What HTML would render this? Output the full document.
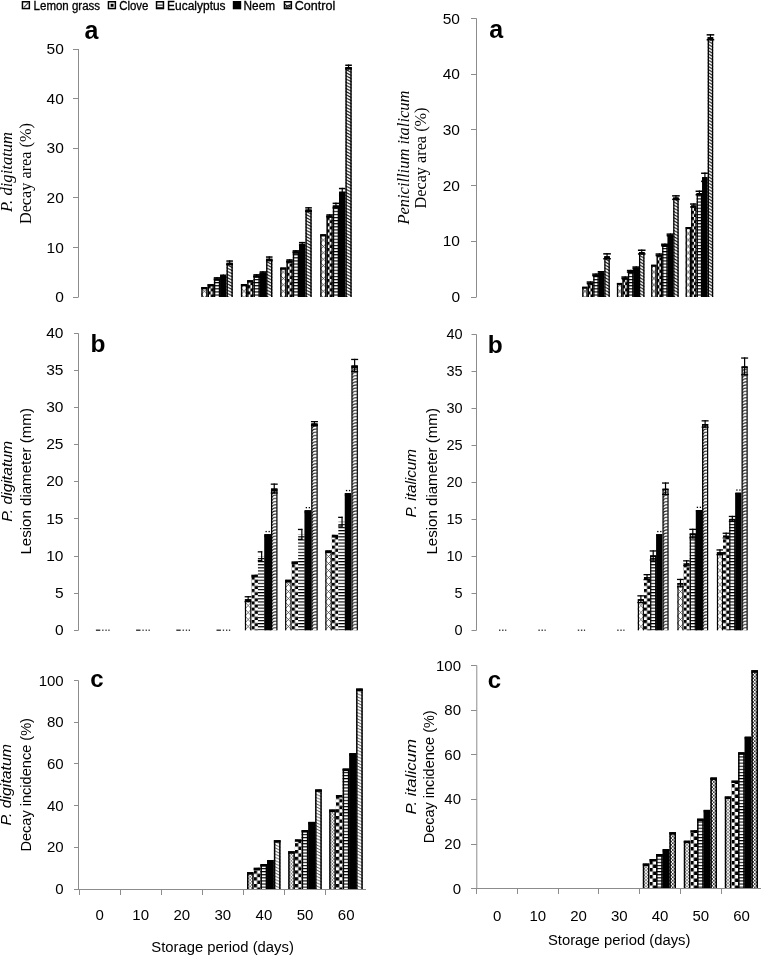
<!DOCTYPE html>
<html><head><meta charset="utf-8"><title>Figure</title>
<style>
html,body{margin:0;padding:0;background:#fff;}
body{width:761px;height:955px;overflow:hidden;font-family:"Liberation Sans",sans-serif;}
svg{display:block;filter:grayscale(100%);}
</style></head>
<body>
<svg width="761" height="955" viewBox="0 0 761 955">
<defs>
<pattern id="lem" patternUnits="userSpaceOnUse" width="6.2" height="6.2">
  <rect width="6.2" height="6.2" fill="#fff"/>
  <path d="M0,0 L6.2,6.2 M6.2,0 L0,6.2" stroke="#000" stroke-width="0.9"/>
</pattern>
<pattern id="clo" patternUnits="userSpaceOnUse" width="6.2" height="6.2">
  <rect width="6.2" height="6.2" fill="#fff"/>
  <rect x="0" y="0" width="3.1" height="3.1" fill="#000"/>
  <rect x="3.1" y="3.1" width="3.1" height="3.1" fill="#000"/>
</pattern>
<pattern id="euc" patternUnits="userSpaceOnUse" width="6" height="3.1">
  <rect width="6" height="3.1" fill="#fff"/>
  <rect x="0" y="0" width="6" height="1.2" fill="#000"/>
</pattern>
<pattern id="ctla" patternUnits="userSpaceOnUse" width="3.2" height="3.2">
  <rect width="3.2" height="3.2" fill="#fff"/>
  <path d="M-1,-1 L4.2,4.2 M-1,2.2 L1,4.2 M2.2,-1 L4.2,1" stroke="#000" stroke-width="1.1"/>
</pattern>
<pattern id="ctlb" patternUnits="userSpaceOnUse" width="6.4" height="3.3">
  <rect width="6.4" height="3.3" fill="#fff"/>
  <path d="M5.6,0 Q1.2,1.2 5.6,3.3" stroke="#000" stroke-width="0.9" fill="none"/>
  <path d="M2.6,0 Q-1.8,1.2 2.6,3.3" stroke="#000" stroke-width="0.9" fill="none"/>
</pattern>
<pattern id="ctlc" patternUnits="userSpaceOnUse" width="3.4" height="3.4">
  <rect width="3.4" height="3.4" fill="#fff"/>
  <path d="M0,1.7 L1.7,0 L3.4,1.7 L1.7,3.4 Z" stroke="#000" stroke-width="0.8" fill="none"/>
</pattern>
<pattern id="p1" patternUnits="userSpaceOnUse" x="201.30" y="0" width="6.30" height="6.4"><rect width="6.30" height="6.4" fill="#fff"/><path d="M0,0 L6.30,6.4 M6.30,0 L0,6.4" stroke="#222" stroke-width="0.7"/></pattern><pattern id="p2" patternUnits="userSpaceOnUse" x="207.60" y="0" width="6.30" height="6.2"><rect width="6.30" height="6.2" fill="#fff"/><rect x="0" y="0" width="3.15" height="3.10" fill="#000"/><rect x="3.15" y="3.10" width="3.15" height="3.10" fill="#000"/></pattern><pattern id="p3" patternUnits="userSpaceOnUse" x="213.90" y="0" width="6.30" height="3.1"><rect width="6.30" height="3.1" fill="#fff"/><rect x="0" y="0" width="6.30" height="1.1" fill="#000"/></pattern><pattern id="p4" patternUnits="userSpaceOnUse" x="226.50" y="0" width="6.30" height="3.15"><rect width="6.30" height="3.15" fill="#fff"/><path d="M0,-3.15 L6.30,0.00 M0,0 L6.30,3.15 M0,3.15 L6.30,6.30" stroke="#111" stroke-width="1.1"/></pattern><pattern id="p5" patternUnits="userSpaceOnUse" x="240.90" y="0" width="6.30" height="6.4"><rect width="6.30" height="6.4" fill="#fff"/><path d="M0,0 L6.30,6.4 M6.30,0 L0,6.4" stroke="#222" stroke-width="0.7"/></pattern><pattern id="p6" patternUnits="userSpaceOnUse" x="247.20" y="0" width="6.30" height="6.2"><rect width="6.30" height="6.2" fill="#fff"/><rect x="0" y="0" width="3.15" height="3.10" fill="#000"/><rect x="3.15" y="3.10" width="3.15" height="3.10" fill="#000"/></pattern><pattern id="p7" patternUnits="userSpaceOnUse" x="253.50" y="0" width="6.30" height="3.1"><rect width="6.30" height="3.1" fill="#fff"/><rect x="0" y="0" width="6.30" height="1.1" fill="#000"/></pattern><pattern id="p8" patternUnits="userSpaceOnUse" x="266.10" y="0" width="6.30" height="3.15"><rect width="6.30" height="3.15" fill="#fff"/><path d="M0,-3.15 L6.30,0.00 M0,0 L6.30,3.15 M0,3.15 L6.30,6.30" stroke="#111" stroke-width="1.1"/></pattern><pattern id="p9" patternUnits="userSpaceOnUse" x="280.20" y="0" width="6.30" height="6.4"><rect width="6.30" height="6.4" fill="#fff"/><path d="M0,0 L6.30,6.4 M6.30,0 L0,6.4" stroke="#222" stroke-width="0.7"/></pattern><pattern id="p10" patternUnits="userSpaceOnUse" x="286.50" y="0" width="6.30" height="6.2"><rect width="6.30" height="6.2" fill="#fff"/><rect x="0" y="0" width="3.15" height="3.10" fill="#000"/><rect x="3.15" y="3.10" width="3.15" height="3.10" fill="#000"/></pattern><pattern id="p11" patternUnits="userSpaceOnUse" x="292.80" y="0" width="6.30" height="3.1"><rect width="6.30" height="3.1" fill="#fff"/><rect x="0" y="0" width="6.30" height="1.1" fill="#000"/></pattern><pattern id="p12" patternUnits="userSpaceOnUse" x="305.40" y="0" width="6.30" height="3.15"><rect width="6.30" height="3.15" fill="#fff"/><path d="M0,-3.15 L6.30,0.00 M0,0 L6.30,3.15 M0,3.15 L6.30,6.30" stroke="#111" stroke-width="1.1"/></pattern><pattern id="p13" patternUnits="userSpaceOnUse" x="320.20" y="0" width="6.30" height="6.4"><rect width="6.30" height="6.4" fill="#fff"/><path d="M0,0 L6.30,6.4 M6.30,0 L0,6.4" stroke="#222" stroke-width="0.7"/></pattern><pattern id="p14" patternUnits="userSpaceOnUse" x="326.50" y="0" width="6.30" height="6.2"><rect width="6.30" height="6.2" fill="#fff"/><rect x="0" y="0" width="3.15" height="3.10" fill="#000"/><rect x="3.15" y="3.10" width="3.15" height="3.10" fill="#000"/></pattern><pattern id="p15" patternUnits="userSpaceOnUse" x="332.80" y="0" width="6.30" height="3.1"><rect width="6.30" height="3.1" fill="#fff"/><rect x="0" y="0" width="6.30" height="1.1" fill="#000"/></pattern><pattern id="p16" patternUnits="userSpaceOnUse" x="345.40" y="0" width="6.30" height="3.15"><rect width="6.30" height="3.15" fill="#fff"/><path d="M0,-3.15 L6.30,0.00 M0,0 L6.30,3.15 M0,3.15 L6.30,6.30" stroke="#111" stroke-width="1.1"/></pattern><pattern id="p17" patternUnits="userSpaceOnUse" x="582.20" y="0" width="5.52" height="6.4"><rect width="5.52" height="6.4" fill="#fff"/><path d="M0,0 L5.52,6.4 M5.52,0 L0,6.4" stroke="#222" stroke-width="0.7"/></pattern><pattern id="p18" patternUnits="userSpaceOnUse" x="587.72" y="0" width="5.52" height="6.2"><rect width="5.52" height="6.2" fill="#fff"/><rect x="0" y="0" width="2.76" height="3.10" fill="#000"/><rect x="2.76" y="3.10" width="2.76" height="3.10" fill="#000"/></pattern><pattern id="p19" patternUnits="userSpaceOnUse" x="593.24" y="0" width="5.52" height="3.1"><rect width="5.52" height="3.1" fill="#fff"/><rect x="0" y="0" width="5.52" height="1.1" fill="#000"/></pattern><pattern id="p20" patternUnits="userSpaceOnUse" x="604.28" y="0" width="5.52" height="3.15"><rect width="5.52" height="3.15" fill="#fff"/><path d="M0,-3.15 L5.52,0.00 M0,0 L5.52,3.15 M0,3.15 L5.52,6.30" stroke="#111" stroke-width="1.1"/></pattern><pattern id="p21" patternUnits="userSpaceOnUse" x="616.90" y="0" width="5.52" height="6.4"><rect width="5.52" height="6.4" fill="#fff"/><path d="M0,0 L5.52,6.4 M5.52,0 L0,6.4" stroke="#222" stroke-width="0.7"/></pattern><pattern id="p22" patternUnits="userSpaceOnUse" x="622.42" y="0" width="5.52" height="6.2"><rect width="5.52" height="6.2" fill="#fff"/><rect x="0" y="0" width="2.76" height="3.10" fill="#000"/><rect x="2.76" y="3.10" width="2.76" height="3.10" fill="#000"/></pattern><pattern id="p23" patternUnits="userSpaceOnUse" x="627.94" y="0" width="5.52" height="3.1"><rect width="5.52" height="3.1" fill="#fff"/><rect x="0" y="0" width="5.52" height="1.1" fill="#000"/></pattern><pattern id="p24" patternUnits="userSpaceOnUse" x="638.98" y="0" width="5.52" height="3.15"><rect width="5.52" height="3.15" fill="#fff"/><path d="M0,-3.15 L5.52,0.00 M0,0 L5.52,3.15 M0,3.15 L5.52,6.30" stroke="#111" stroke-width="1.1"/></pattern><pattern id="p25" patternUnits="userSpaceOnUse" x="651.10" y="0" width="5.52" height="6.4"><rect width="5.52" height="6.4" fill="#fff"/><path d="M0,0 L5.52,6.4 M5.52,0 L0,6.4" stroke="#222" stroke-width="0.7"/></pattern><pattern id="p26" patternUnits="userSpaceOnUse" x="656.62" y="0" width="5.52" height="6.2"><rect width="5.52" height="6.2" fill="#fff"/><rect x="0" y="0" width="2.76" height="3.10" fill="#000"/><rect x="2.76" y="3.10" width="2.76" height="3.10" fill="#000"/></pattern><pattern id="p27" patternUnits="userSpaceOnUse" x="662.14" y="0" width="5.52" height="3.1"><rect width="5.52" height="3.1" fill="#fff"/><rect x="0" y="0" width="5.52" height="1.1" fill="#000"/></pattern><pattern id="p28" patternUnits="userSpaceOnUse" x="673.18" y="0" width="5.52" height="3.15"><rect width="5.52" height="3.15" fill="#fff"/><path d="M0,-3.15 L5.52,0.00 M0,0 L5.52,3.15 M0,3.15 L5.52,6.30" stroke="#111" stroke-width="1.1"/></pattern><pattern id="p29" patternUnits="userSpaceOnUse" x="685.60" y="0" width="5.52" height="6.4"><rect width="5.52" height="6.4" fill="#fff"/><path d="M0,0 L5.52,6.4 M5.52,0 L0,6.4" stroke="#222" stroke-width="0.7"/></pattern><pattern id="p30" patternUnits="userSpaceOnUse" x="691.12" y="0" width="5.52" height="6.2"><rect width="5.52" height="6.2" fill="#fff"/><rect x="0" y="0" width="2.76" height="3.10" fill="#000"/><rect x="2.76" y="3.10" width="2.76" height="3.10" fill="#000"/></pattern><pattern id="p31" patternUnits="userSpaceOnUse" x="696.64" y="0" width="5.52" height="3.1"><rect width="5.52" height="3.1" fill="#fff"/><rect x="0" y="0" width="5.52" height="1.1" fill="#000"/></pattern><pattern id="p32" patternUnits="userSpaceOnUse" x="707.68" y="0" width="5.52" height="3.15"><rect width="5.52" height="3.15" fill="#fff"/><path d="M0,-3.15 L5.52,0.00 M0,0 L5.52,3.15 M0,3.15 L5.52,6.30" stroke="#111" stroke-width="1.1"/></pattern><pattern id="p33" patternUnits="userSpaceOnUse" x="244.90" y="0" width="6.52" height="7.0"><rect width="6.52" height="7.0" fill="#fff"/><path d="M0,0 L6.52,7.0 M6.52,0 L0,7.0" stroke="#222" stroke-width="0.6"/></pattern><pattern id="p34" patternUnits="userSpaceOnUse" x="251.42" y="0" width="6.52" height="6.2"><rect width="6.52" height="6.2" fill="#fff"/><rect x="0" y="0" width="3.26" height="3.10" fill="#000"/><rect x="3.26" y="3.10" width="3.26" height="3.10" fill="#000"/></pattern><pattern id="p35" patternUnits="userSpaceOnUse" x="257.94" y="0" width="6.52" height="3.1"><rect width="6.52" height="3.1" fill="#fff"/><rect x="0" y="0" width="6.52" height="1.1" fill="#000"/></pattern><pattern id="p36" patternUnits="userSpaceOnUse" x="270.98" y="0" width="6.52" height="3.15"><rect width="6.52" height="3.15" fill="#fff"/><path d="M0.98,2.99 Q1.63,0.32 5.87,0.79" stroke="#111" stroke-width="0.9" fill="none"/></pattern><pattern id="p37" patternUnits="userSpaceOnUse" x="285.10" y="0" width="6.52" height="7.0"><rect width="6.52" height="7.0" fill="#fff"/><path d="M0,0 L6.52,7.0 M6.52,0 L0,7.0" stroke="#222" stroke-width="0.6"/></pattern><pattern id="p38" patternUnits="userSpaceOnUse" x="291.62" y="0" width="6.52" height="6.2"><rect width="6.52" height="6.2" fill="#fff"/><rect x="0" y="0" width="3.26" height="3.10" fill="#000"/><rect x="3.26" y="3.10" width="3.26" height="3.10" fill="#000"/></pattern><pattern id="p39" patternUnits="userSpaceOnUse" x="298.14" y="0" width="6.52" height="3.1"><rect width="6.52" height="3.1" fill="#fff"/><rect x="0" y="0" width="6.52" height="1.1" fill="#000"/></pattern><pattern id="p40" patternUnits="userSpaceOnUse" x="311.18" y="0" width="6.52" height="3.15"><rect width="6.52" height="3.15" fill="#fff"/><path d="M0.98,2.99 Q1.63,0.32 5.87,0.79" stroke="#111" stroke-width="0.9" fill="none"/></pattern><pattern id="p41" patternUnits="userSpaceOnUse" x="325.30" y="0" width="6.52" height="7.0"><rect width="6.52" height="7.0" fill="#fff"/><path d="M0,0 L6.52,7.0 M6.52,0 L0,7.0" stroke="#222" stroke-width="0.6"/></pattern><pattern id="p42" patternUnits="userSpaceOnUse" x="331.82" y="0" width="6.52" height="6.2"><rect width="6.52" height="6.2" fill="#fff"/><rect x="0" y="0" width="3.26" height="3.10" fill="#000"/><rect x="3.26" y="3.10" width="3.26" height="3.10" fill="#000"/></pattern><pattern id="p43" patternUnits="userSpaceOnUse" x="338.34" y="0" width="6.52" height="3.1"><rect width="6.52" height="3.1" fill="#fff"/><rect x="0" y="0" width="6.52" height="1.1" fill="#000"/></pattern><pattern id="p44" patternUnits="userSpaceOnUse" x="351.38" y="0" width="6.52" height="3.15"><rect width="6.52" height="3.15" fill="#fff"/><path d="M0.98,2.99 Q1.63,0.32 5.87,0.79" stroke="#111" stroke-width="0.9" fill="none"/></pattern><pattern id="p45" patternUnits="userSpaceOnUse" x="637.80" y="0" width="6.16" height="7.0"><rect width="6.16" height="7.0" fill="#fff"/><path d="M0,0 L6.16,7.0 M6.16,0 L0,7.0" stroke="#222" stroke-width="0.6"/></pattern><pattern id="p46" patternUnits="userSpaceOnUse" x="643.96" y="0" width="6.16" height="6.2"><rect width="6.16" height="6.2" fill="#fff"/><rect x="0" y="0" width="3.08" height="3.10" fill="#000"/><rect x="3.08" y="3.10" width="3.08" height="3.10" fill="#000"/></pattern><pattern id="p47" patternUnits="userSpaceOnUse" x="650.12" y="0" width="6.16" height="3.1"><rect width="6.16" height="3.1" fill="#fff"/><rect x="0" y="0" width="6.16" height="1.1" fill="#000"/></pattern><pattern id="p48" patternUnits="userSpaceOnUse" x="662.44" y="0" width="6.16" height="3.15"><rect width="6.16" height="3.15" fill="#fff"/><path d="M0.92,2.99 Q1.54,0.32 5.54,0.79" stroke="#111" stroke-width="0.9" fill="none"/></pattern><pattern id="p49" patternUnits="userSpaceOnUse" x="677.40" y="0" width="6.16" height="7.0"><rect width="6.16" height="7.0" fill="#fff"/><path d="M0,0 L6.16,7.0 M6.16,0 L0,7.0" stroke="#222" stroke-width="0.6"/></pattern><pattern id="p50" patternUnits="userSpaceOnUse" x="683.56" y="0" width="6.16" height="6.2"><rect width="6.16" height="6.2" fill="#fff"/><rect x="0" y="0" width="3.08" height="3.10" fill="#000"/><rect x="3.08" y="3.10" width="3.08" height="3.10" fill="#000"/></pattern><pattern id="p51" patternUnits="userSpaceOnUse" x="689.72" y="0" width="6.16" height="3.1"><rect width="6.16" height="3.1" fill="#fff"/><rect x="0" y="0" width="6.16" height="1.1" fill="#000"/></pattern><pattern id="p52" patternUnits="userSpaceOnUse" x="702.04" y="0" width="6.16" height="3.15"><rect width="6.16" height="3.15" fill="#fff"/><path d="M0.92,2.99 Q1.54,0.32 5.54,0.79" stroke="#111" stroke-width="0.9" fill="none"/></pattern><pattern id="p53" patternUnits="userSpaceOnUse" x="716.90" y="0" width="6.16" height="7.0"><rect width="6.16" height="7.0" fill="#fff"/><path d="M0,0 L6.16,7.0 M6.16,0 L0,7.0" stroke="#222" stroke-width="0.6"/></pattern><pattern id="p54" patternUnits="userSpaceOnUse" x="723.06" y="0" width="6.16" height="6.2"><rect width="6.16" height="6.2" fill="#fff"/><rect x="0" y="0" width="3.08" height="3.10" fill="#000"/><rect x="3.08" y="3.10" width="3.08" height="3.10" fill="#000"/></pattern><pattern id="p55" patternUnits="userSpaceOnUse" x="729.22" y="0" width="6.16" height="3.1"><rect width="6.16" height="3.1" fill="#fff"/><rect x="0" y="0" width="6.16" height="1.1" fill="#000"/></pattern><pattern id="p56" patternUnits="userSpaceOnUse" x="741.54" y="0" width="6.16" height="3.15"><rect width="6.16" height="3.15" fill="#fff"/><path d="M0.92,2.99 Q1.54,0.32 5.54,0.79" stroke="#111" stroke-width="0.9" fill="none"/></pattern><pattern id="p57" patternUnits="userSpaceOnUse" x="247.00" y="0" width="3.20" height="3.2"><rect width="3.2" height="3.2" fill="#fff"/><path d="M0,0 L3.2,3.2 M3.2,0 L0,3.2" stroke="#555" stroke-width="0.6"/></pattern><pattern id="p58" patternUnits="userSpaceOnUse" x="253.72" y="0" width="6.72" height="6.8"><rect width="6.72" height="6.8" fill="#fff"/><rect x="0" y="0" width="3.36" height="3.40" fill="#000"/><rect x="3.36" y="3.40" width="3.36" height="3.40" fill="#000"/></pattern><pattern id="p59" patternUnits="userSpaceOnUse" x="260.44" y="0" width="6.72" height="3.1"><rect width="6.72" height="3.1" fill="#fff"/><rect x="0" y="0" width="6.72" height="1.1" fill="#000"/></pattern><pattern id="p60" patternUnits="userSpaceOnUse" x="273.88" y="0" width="6.72" height="3.15"><rect width="6.72" height="3.15" fill="#fff"/><path d="M0,-3.15 L6.72,0.00 M0,0 L6.72,3.15 M0,3.15 L6.72,6.30" stroke="#444" stroke-width="0.8"/></pattern><pattern id="p61" patternUnits="userSpaceOnUse" x="288.20" y="0" width="3.20" height="3.2"><rect width="3.2" height="3.2" fill="#fff"/><path d="M0,0 L3.2,3.2 M3.2,0 L0,3.2" stroke="#555" stroke-width="0.6"/></pattern><pattern id="p62" patternUnits="userSpaceOnUse" x="294.92" y="0" width="6.72" height="6.8"><rect width="6.72" height="6.8" fill="#fff"/><rect x="0" y="0" width="3.36" height="3.40" fill="#000"/><rect x="3.36" y="3.40" width="3.36" height="3.40" fill="#000"/></pattern><pattern id="p63" patternUnits="userSpaceOnUse" x="301.64" y="0" width="6.72" height="3.1"><rect width="6.72" height="3.1" fill="#fff"/><rect x="0" y="0" width="6.72" height="1.1" fill="#000"/></pattern><pattern id="p64" patternUnits="userSpaceOnUse" x="315.08" y="0" width="6.72" height="3.15"><rect width="6.72" height="3.15" fill="#fff"/><path d="M0,-3.15 L6.72,0.00 M0,0 L6.72,3.15 M0,3.15 L6.72,6.30" stroke="#444" stroke-width="0.8"/></pattern><pattern id="p65" patternUnits="userSpaceOnUse" x="329.20" y="0" width="3.20" height="3.2"><rect width="3.2" height="3.2" fill="#fff"/><path d="M0,0 L3.2,3.2 M3.2,0 L0,3.2" stroke="#555" stroke-width="0.6"/></pattern><pattern id="p66" patternUnits="userSpaceOnUse" x="335.92" y="0" width="6.72" height="6.8"><rect width="6.72" height="6.8" fill="#fff"/><rect x="0" y="0" width="3.36" height="3.40" fill="#000"/><rect x="3.36" y="3.40" width="3.36" height="3.40" fill="#000"/></pattern><pattern id="p67" patternUnits="userSpaceOnUse" x="342.64" y="0" width="6.72" height="3.1"><rect width="6.72" height="3.1" fill="#fff"/><rect x="0" y="0" width="6.72" height="1.1" fill="#000"/></pattern><pattern id="p68" patternUnits="userSpaceOnUse" x="356.08" y="0" width="6.72" height="3.15"><rect width="6.72" height="3.15" fill="#fff"/><path d="M0,-3.15 L6.72,0.00 M0,0 L6.72,3.15 M0,3.15 L6.72,6.30" stroke="#444" stroke-width="0.8"/></pattern><pattern id="p69" patternUnits="userSpaceOnUse" x="642.80" y="0" width="3.20" height="3.2"><rect width="3.2" height="3.2" fill="#fff"/><path d="M0,0 L3.2,3.2 M3.2,0 L0,3.2" stroke="#555" stroke-width="0.6"/></pattern><pattern id="p70" patternUnits="userSpaceOnUse" x="649.44" y="0" width="6.64" height="7.0"><rect width="6.64" height="7.0" fill="#fff"/><rect x="0" y="0" width="3.32" height="3.50" fill="#000"/><rect x="3.32" y="3.50" width="3.32" height="3.50" fill="#000"/></pattern><pattern id="p71" patternUnits="userSpaceOnUse" x="656.08" y="0" width="6.64" height="3.1"><rect width="6.64" height="3.1" fill="#fff"/><rect x="0" y="0" width="6.64" height="1.1" fill="#000"/></pattern><pattern id="p72" patternUnits="userSpaceOnUse" x="669.36" y="0" width="3.40" height="3.4"><rect width="3.4" height="3.4" fill="#fff"/><path d="M0,0 L3.4,3.4 M3.4,0 L0,3.4" stroke="#222" stroke-width="0.75"/></pattern><pattern id="p73" patternUnits="userSpaceOnUse" x="683.80" y="0" width="3.20" height="3.2"><rect width="3.2" height="3.2" fill="#fff"/><path d="M0,0 L3.2,3.2 M3.2,0 L0,3.2" stroke="#555" stroke-width="0.6"/></pattern><pattern id="p74" patternUnits="userSpaceOnUse" x="690.44" y="0" width="6.64" height="7.0"><rect width="6.64" height="7.0" fill="#fff"/><rect x="0" y="0" width="3.32" height="3.50" fill="#000"/><rect x="3.32" y="3.50" width="3.32" height="3.50" fill="#000"/></pattern><pattern id="p75" patternUnits="userSpaceOnUse" x="697.08" y="0" width="6.64" height="3.1"><rect width="6.64" height="3.1" fill="#fff"/><rect x="0" y="0" width="6.64" height="1.1" fill="#000"/></pattern><pattern id="p76" patternUnits="userSpaceOnUse" x="710.36" y="0" width="3.40" height="3.4"><rect width="3.4" height="3.4" fill="#fff"/><path d="M0,0 L3.4,3.4 M3.4,0 L0,3.4" stroke="#222" stroke-width="0.75"/></pattern><pattern id="p77" patternUnits="userSpaceOnUse" x="724.80" y="0" width="3.20" height="3.2"><rect width="3.2" height="3.2" fill="#fff"/><path d="M0,0 L3.2,3.2 M3.2,0 L0,3.2" stroke="#555" stroke-width="0.6"/></pattern><pattern id="p78" patternUnits="userSpaceOnUse" x="731.44" y="0" width="6.64" height="7.0"><rect width="6.64" height="7.0" fill="#fff"/><rect x="0" y="0" width="3.32" height="3.50" fill="#000"/><rect x="3.32" y="3.50" width="3.32" height="3.50" fill="#000"/></pattern><pattern id="p79" patternUnits="userSpaceOnUse" x="738.08" y="0" width="6.64" height="3.1"><rect width="6.64" height="3.1" fill="#fff"/><rect x="0" y="0" width="6.64" height="1.1" fill="#000"/></pattern><pattern id="p80" patternUnits="userSpaceOnUse" x="751.36" y="0" width="3.40" height="3.4"><rect width="3.4" height="3.4" fill="#fff"/><path d="M0,0 L3.4,3.4 M3.4,0 L0,3.4" stroke="#222" stroke-width="0.75"/></pattern></defs>
<rect width="761" height="955" fill="#fff"/>
<rect x="22.45" y="1.75" width="6.90" height="6.80" fill="#fff" stroke="#000" stroke-width="1.5"/>
<line x1="23.90" y1="7.30" x2="28.30" y2="2.90" stroke="#444" stroke-width="1.1"/>
<text x="33.60" y="9.50" font-family='"Liberation Sans", sans-serif' font-size="12" text-anchor="start" font-weight="normal" font-style="normal" fill="#000" stroke="#000" stroke-width="0.3" textLength="66.5" lengthAdjust="spacingAndGlyphs">Lemon grass</text>
<rect x="108.45" y="1.75" width="6.90" height="6.80" fill="#fff" stroke="#000" stroke-width="1.5"/>
<rect x="110.60" y="3.80" width="3.0" height="3.0" fill="#000"/>
<text x="119.20" y="9.50" font-family='"Liberation Sans", sans-serif' font-size="12" text-anchor="start" font-weight="normal" font-style="normal" fill="#000" stroke="#000" stroke-width="0.3" textLength="29.2" lengthAdjust="spacingAndGlyphs">Clove</text>
<rect x="156.55" y="1.75" width="6.90" height="6.80" fill="#fff" stroke="#000" stroke-width="1.5"/>
<rect x="157.20" y="4.60" width="5.6" height="1.1" fill="#222"/>
<rect x="157.20" y="7.20" width="5.6" height="0.9" fill="#000"/>
<text x="167.10" y="9.50" font-family='"Liberation Sans", sans-serif' font-size="12" text-anchor="start" font-weight="normal" font-style="normal" fill="#000" stroke="#000" stroke-width="0.3" textLength="58.5" lengthAdjust="spacingAndGlyphs">Eucalyptus</text>
<rect x="233.55" y="1.75" width="6.90" height="6.80" fill="#000" stroke="#000" stroke-width="1.5"/>
<text x="243.60" y="9.50" font-family='"Liberation Sans", sans-serif' font-size="12" text-anchor="start" font-weight="normal" font-style="normal" fill="#000" stroke="#000" stroke-width="0.3" textLength="31.5" lengthAdjust="spacingAndGlyphs">Neem</text>
<rect x="284.45" y="1.75" width="6.90" height="6.80" fill="#fff" stroke="#000" stroke-width="1.5"/>
<path d="M285.20,4.20 L286.70,6.00 L290.70,4.40 M285.20,7.00 L288.20,7.20 L290.70,5.80" stroke="#111" stroke-width="1.1" fill="none"/>
<text x="294.70" y="9.50" font-family='"Liberation Sans", sans-serif' font-size="12" text-anchor="start" font-weight="normal" font-style="normal" fill="#000" stroke="#000" stroke-width="0.3" textLength="40.5" lengthAdjust="spacingAndGlyphs">Control</text>
<line x1="78.5" y1="49.00" x2="78.5" y2="297.00" stroke="#8c8c8c" stroke-width="1"/>
<line x1="73.0" y1="297.50" x2="78.5" y2="297.50" stroke="#8c8c8c" stroke-width="1"/>
<text x="63.80" y="302.20" font-family='"Liberation Sans", sans-serif' font-size="15.5" text-anchor="end" font-weight="normal" font-style="normal" fill="#000" >0</text>
<line x1="73.0" y1="247.50" x2="78.5" y2="247.50" stroke="#8c8c8c" stroke-width="1"/>
<text x="63.80" y="252.60" font-family='"Liberation Sans", sans-serif' font-size="15.5" text-anchor="end" font-weight="normal" font-style="normal" fill="#000" >10</text>
<line x1="73.0" y1="197.50" x2="78.5" y2="197.50" stroke="#8c8c8c" stroke-width="1"/>
<text x="63.80" y="203.00" font-family='"Liberation Sans", sans-serif' font-size="15.5" text-anchor="end" font-weight="normal" font-style="normal" fill="#000" >20</text>
<line x1="73.0" y1="148.50" x2="78.5" y2="148.50" stroke="#8c8c8c" stroke-width="1"/>
<text x="63.80" y="153.40" font-family='"Liberation Sans", sans-serif' font-size="15.5" text-anchor="end" font-weight="normal" font-style="normal" fill="#000" >30</text>
<line x1="73.0" y1="98.50" x2="78.5" y2="98.50" stroke="#8c8c8c" stroke-width="1"/>
<text x="63.80" y="103.80" font-family='"Liberation Sans", sans-serif' font-size="15.5" text-anchor="end" font-weight="normal" font-style="normal" fill="#000" >40</text>
<line x1="73.0" y1="49.50" x2="78.5" y2="49.50" stroke="#8c8c8c" stroke-width="1"/>
<text x="63.80" y="54.20" font-family='"Liberation Sans", sans-serif' font-size="15.5" text-anchor="end" font-weight="normal" font-style="normal" fill="#000" >50</text>
<rect x="201.30" y="287.10" width="6.30" height="9.90" fill="url(#p1)"/>
<path d="M202.00,297.00 V287.80 H206.90 V297.00" fill="none" stroke="#000" stroke-width="1.4"/>
<rect x="201.30" y="287.10" width="6.30" height="2.2" fill="#000"/>
<rect x="207.60" y="284.20" width="6.30" height="12.80" fill="url(#p2)"/>
<path d="M208.30,297.00 V284.90 H213.20 V297.00" fill="none" stroke="#000" stroke-width="1.4"/>
<rect x="207.60" y="284.20" width="6.30" height="2.2" fill="#000"/>
<rect x="213.90" y="278.60" width="6.30" height="18.40" fill="url(#p3)"/>
<path d="M214.60,297.00 V279.30 H219.50 V297.00" fill="none" stroke="#000" stroke-width="1.4"/>
<rect x="213.90" y="278.60" width="6.30" height="2.2" fill="#000"/>
<rect x="213.75" y="277.10" width="6.60" height="1.5" fill="#000"/>
<rect x="213.75" y="278.60" width="6.60" height="1.5" fill="#000"/>
<rect x="216.45" y="277.10" width="1.2" height="3.00" fill="#000"/>
<rect x="220.20" y="276.00" width="6.30" height="21.00" fill="#000"/>
<path d="M220.90,297.00 V276.70 H225.80 V297.00" fill="none" stroke="#000" stroke-width="1.4"/>
<rect x="220.20" y="276.00" width="6.30" height="2.2" fill="#000"/>
<rect x="220.05" y="274.50" width="6.60" height="1.5" fill="#000"/>
<rect x="220.05" y="276.00" width="6.60" height="1.5" fill="#000"/>
<rect x="222.75" y="274.50" width="1.2" height="3.00" fill="#000"/>
<rect x="226.50" y="262.80" width="6.30" height="34.20" fill="url(#p4)"/>
<path d="M227.20,297.00 V263.50 H232.10 V297.00" fill="none" stroke="#000" stroke-width="1.4"/>
<rect x="226.50" y="262.80" width="6.30" height="2.2" fill="#000"/>
<rect x="226.35" y="260.30" width="6.60" height="1.5" fill="#000"/>
<rect x="226.35" y="263.80" width="6.60" height="1.5" fill="#000"/>
<rect x="229.05" y="260.30" width="1.2" height="5.00" fill="#000"/>
<rect x="240.90" y="284.10" width="6.30" height="12.90" fill="url(#p5)"/>
<path d="M241.60,297.00 V284.80 H246.50 V297.00" fill="none" stroke="#000" stroke-width="1.4"/>
<rect x="240.90" y="284.10" width="6.30" height="2.2" fill="#000"/>
<rect x="247.20" y="280.30" width="6.30" height="16.70" fill="url(#p6)"/>
<path d="M247.90,297.00 V281.00 H252.80 V297.00" fill="none" stroke="#000" stroke-width="1.4"/>
<rect x="247.20" y="280.30" width="6.30" height="2.2" fill="#000"/>
<rect x="253.50" y="275.60" width="6.30" height="21.40" fill="url(#p7)"/>
<path d="M254.20,297.00 V276.30 H259.10 V297.00" fill="none" stroke="#000" stroke-width="1.4"/>
<rect x="253.50" y="275.60" width="6.30" height="2.2" fill="#000"/>
<rect x="253.35" y="274.10" width="6.60" height="1.5" fill="#000"/>
<rect x="253.35" y="275.60" width="6.60" height="1.5" fill="#000"/>
<rect x="256.05" y="274.10" width="1.2" height="3.00" fill="#000"/>
<rect x="259.80" y="272.70" width="6.30" height="24.30" fill="#000"/>
<path d="M260.50,297.00 V273.40 H265.40 V297.00" fill="none" stroke="#000" stroke-width="1.4"/>
<rect x="259.80" y="272.70" width="6.30" height="2.2" fill="#000"/>
<rect x="259.65" y="271.20" width="6.60" height="1.5" fill="#000"/>
<rect x="259.65" y="272.70" width="6.60" height="1.5" fill="#000"/>
<rect x="262.35" y="271.20" width="1.2" height="3.00" fill="#000"/>
<rect x="266.10" y="258.80" width="6.30" height="38.20" fill="url(#p8)"/>
<path d="M266.80,297.00 V259.50 H271.70 V297.00" fill="none" stroke="#000" stroke-width="1.4"/>
<rect x="266.10" y="258.80" width="6.30" height="2.2" fill="#000"/>
<rect x="265.95" y="256.30" width="6.60" height="1.5" fill="#000"/>
<rect x="265.95" y="259.80" width="6.60" height="1.5" fill="#000"/>
<rect x="268.65" y="256.30" width="1.2" height="5.00" fill="#000"/>
<rect x="280.20" y="267.60" width="6.30" height="29.40" fill="url(#p9)"/>
<path d="M280.90,297.00 V268.30 H285.80 V297.00" fill="none" stroke="#000" stroke-width="1.4"/>
<rect x="280.20" y="267.60" width="6.30" height="2.2" fill="#000"/>
<rect x="286.50" y="260.70" width="6.30" height="36.30" fill="url(#p10)"/>
<path d="M287.20,297.00 V261.40 H292.10 V297.00" fill="none" stroke="#000" stroke-width="1.4"/>
<rect x="286.50" y="260.70" width="6.30" height="2.2" fill="#000"/>
<rect x="286.35" y="259.20" width="6.60" height="1.5" fill="#000"/>
<rect x="286.35" y="260.70" width="6.60" height="1.5" fill="#000"/>
<rect x="289.05" y="259.20" width="1.2" height="3.00" fill="#000"/>
<rect x="292.80" y="251.60" width="6.30" height="45.40" fill="url(#p11)"/>
<path d="M293.50,297.00 V252.30 H298.40 V297.00" fill="none" stroke="#000" stroke-width="1.4"/>
<rect x="292.80" y="251.60" width="6.30" height="2.2" fill="#000"/>
<rect x="292.65" y="250.10" width="6.60" height="1.5" fill="#000"/>
<rect x="292.65" y="251.60" width="6.60" height="1.5" fill="#000"/>
<rect x="295.35" y="250.10" width="1.2" height="3.00" fill="#000"/>
<rect x="299.10" y="243.90" width="6.30" height="53.10" fill="#000"/>
<path d="M299.80,297.00 V244.60 H304.70 V297.00" fill="none" stroke="#000" stroke-width="1.4"/>
<rect x="299.10" y="243.90" width="6.30" height="2.2" fill="#000"/>
<rect x="298.95" y="241.90" width="6.60" height="1.5" fill="#000"/>
<rect x="298.95" y="244.40" width="6.60" height="1.5" fill="#000"/>
<rect x="301.65" y="241.90" width="1.2" height="4.00" fill="#000"/>
<rect x="305.40" y="209.60" width="6.30" height="87.40" fill="url(#p12)"/>
<path d="M306.10,297.00 V210.30 H311.00 V297.00" fill="none" stroke="#000" stroke-width="1.4"/>
<rect x="305.40" y="209.60" width="6.30" height="2.2" fill="#000"/>
<rect x="305.25" y="207.10" width="6.60" height="1.5" fill="#000"/>
<rect x="305.25" y="210.60" width="6.60" height="1.5" fill="#000"/>
<rect x="307.95" y="207.10" width="1.2" height="5.00" fill="#000"/>
<rect x="320.20" y="234.30" width="6.30" height="62.70" fill="url(#p13)"/>
<path d="M320.90,297.00 V235.00 H325.80 V297.00" fill="none" stroke="#000" stroke-width="1.4"/>
<rect x="320.20" y="234.30" width="6.30" height="2.2" fill="#000"/>
<rect x="326.50" y="215.70" width="6.30" height="81.30" fill="url(#p14)"/>
<path d="M327.20,297.00 V216.40 H332.10 V297.00" fill="none" stroke="#000" stroke-width="1.4"/>
<rect x="326.50" y="215.70" width="6.30" height="2.2" fill="#000"/>
<rect x="326.35" y="214.20" width="6.60" height="1.5" fill="#000"/>
<rect x="326.35" y="215.70" width="6.60" height="1.5" fill="#000"/>
<rect x="329.05" y="214.20" width="1.2" height="3.00" fill="#000"/>
<rect x="332.80" y="205.60" width="6.30" height="91.40" fill="url(#p15)"/>
<path d="M333.50,297.00 V206.30 H338.40 V297.00" fill="none" stroke="#000" stroke-width="1.4"/>
<rect x="332.80" y="205.60" width="6.30" height="2.2" fill="#000"/>
<rect x="332.65" y="202.60" width="6.60" height="1.5" fill="#000"/>
<rect x="332.65" y="207.10" width="6.60" height="1.5" fill="#000"/>
<rect x="335.35" y="202.60" width="1.2" height="6.00" fill="#000"/>
<rect x="339.10" y="191.80" width="6.30" height="105.20" fill="#000"/>
<path d="M339.80,297.00 V192.50 H344.70 V297.00" fill="none" stroke="#000" stroke-width="1.4"/>
<rect x="339.10" y="191.80" width="6.30" height="2.2" fill="#000"/>
<rect x="338.95" y="187.80" width="6.60" height="1.5" fill="#000"/>
<rect x="338.95" y="194.30" width="6.60" height="1.5" fill="#000"/>
<rect x="341.65" y="187.80" width="1.2" height="8.00" fill="#000"/>
<rect x="345.40" y="67.00" width="6.30" height="230.00" fill="url(#p16)"/>
<path d="M346.10,297.00 V67.70 H351.00 V297.00" fill="none" stroke="#000" stroke-width="1.4"/>
<rect x="345.40" y="67.00" width="6.30" height="2.2" fill="#000"/>
<rect x="345.25" y="64.50" width="6.60" height="1.5" fill="#000"/>
<rect x="345.25" y="68.00" width="6.60" height="1.5" fill="#000"/>
<rect x="347.95" y="64.50" width="1.2" height="5.00" fill="#000"/>
<text x="84.50" y="38.50" font-family='"Liberation Sans", sans-serif' font-size="25" text-anchor="start" font-weight="bold" font-style="normal" fill="#000" >a</text>
<text transform="translate(12.30,171.90) rotate(-90)" x="0" y="0" font-family='"Liberation Serif", serif' font-size="16" text-anchor="middle" font-style="italic" font-weight="normal" textLength="80" lengthAdjust="spacingAndGlyphs">P. digitatum</text>
<text transform="translate(31.00,173.60) rotate(-90)" x="0" y="0" font-family='"Liberation Serif", serif' font-size="16" text-anchor="middle" font-style="normal" font-weight="normal" textLength="101" lengthAdjust="spacingAndGlyphs">Decay area (%)</text>
<line x1="476.5" y1="18.40" x2="476.5" y2="297.00" stroke="#8c8c8c" stroke-width="1"/>
<line x1="471.0" y1="297.50" x2="476.5" y2="297.50" stroke="#8c8c8c" stroke-width="1"/>
<text x="460.00" y="302.20" font-family='"Liberation Sans", sans-serif' font-size="15.5" text-anchor="end" font-weight="normal" font-style="normal" fill="#000" >0</text>
<line x1="471.0" y1="241.50" x2="476.5" y2="241.50" stroke="#8c8c8c" stroke-width="1"/>
<text x="460.00" y="246.48" font-family='"Liberation Sans", sans-serif' font-size="15.5" text-anchor="end" font-weight="normal" font-style="normal" fill="#000" >10</text>
<line x1="471.0" y1="185.50" x2="476.5" y2="185.50" stroke="#8c8c8c" stroke-width="1"/>
<text x="460.00" y="190.76" font-family='"Liberation Sans", sans-serif' font-size="15.5" text-anchor="end" font-weight="normal" font-style="normal" fill="#000" >20</text>
<line x1="471.0" y1="129.50" x2="476.5" y2="129.50" stroke="#8c8c8c" stroke-width="1"/>
<text x="460.00" y="135.04" font-family='"Liberation Sans", sans-serif' font-size="15.5" text-anchor="end" font-weight="normal" font-style="normal" fill="#000" >30</text>
<line x1="471.0" y1="74.50" x2="476.5" y2="74.50" stroke="#8c8c8c" stroke-width="1"/>
<text x="460.00" y="79.32" font-family='"Liberation Sans", sans-serif' font-size="15.5" text-anchor="end" font-weight="normal" font-style="normal" fill="#000" >40</text>
<line x1="471.0" y1="18.50" x2="476.5" y2="18.50" stroke="#8c8c8c" stroke-width="1"/>
<text x="460.00" y="23.60" font-family='"Liberation Sans", sans-serif' font-size="15.5" text-anchor="end" font-weight="normal" font-style="normal" fill="#000" >50</text>
<rect x="582.20" y="286.80" width="5.52" height="10.20" fill="url(#p17)"/>
<path d="M582.85,297.00 V287.45 H587.07 V297.00" fill="none" stroke="#000" stroke-width="1.3"/>
<rect x="582.20" y="286.80" width="5.52" height="2.0" fill="#000"/>
<rect x="587.72" y="282.80" width="5.52" height="14.20" fill="url(#p18)"/>
<path d="M588.37,297.00 V283.45 H592.59 V297.00" fill="none" stroke="#000" stroke-width="1.3"/>
<rect x="587.72" y="282.80" width="5.52" height="2.0" fill="#000"/>
<rect x="586.68" y="281.30" width="7.60" height="1.5" fill="#000"/>
<rect x="586.68" y="282.80" width="7.60" height="1.5" fill="#000"/>
<rect x="589.88" y="281.30" width="1.2" height="3.00" fill="#000"/>
<rect x="593.24" y="274.90" width="5.52" height="22.10" fill="url(#p19)"/>
<path d="M593.89,297.00 V275.55 H598.11 V297.00" fill="none" stroke="#000" stroke-width="1.3"/>
<rect x="593.24" y="274.90" width="5.52" height="2.0" fill="#000"/>
<rect x="592.20" y="273.40" width="7.60" height="1.5" fill="#000"/>
<rect x="592.20" y="274.90" width="7.60" height="1.5" fill="#000"/>
<rect x="595.40" y="273.40" width="1.2" height="3.00" fill="#000"/>
<rect x="598.76" y="272.50" width="5.52" height="24.50" fill="#000"/>
<path d="M599.41,297.00 V273.15 H603.63 V297.00" fill="none" stroke="#000" stroke-width="1.3"/>
<rect x="598.76" y="272.50" width="5.52" height="2.0" fill="#000"/>
<rect x="597.72" y="271.00" width="7.60" height="1.5" fill="#000"/>
<rect x="597.72" y="272.50" width="7.60" height="1.5" fill="#000"/>
<rect x="600.92" y="271.00" width="1.2" height="3.00" fill="#000"/>
<rect x="604.28" y="256.30" width="5.52" height="40.70" fill="url(#p20)"/>
<path d="M604.93,297.00 V256.95 H609.15 V297.00" fill="none" stroke="#000" stroke-width="1.3"/>
<rect x="604.28" y="256.30" width="5.52" height="2.0" fill="#000"/>
<rect x="603.24" y="253.10" width="7.60" height="1.5" fill="#000"/>
<rect x="603.24" y="258.00" width="7.60" height="1.5" fill="#000"/>
<rect x="606.44" y="253.10" width="1.2" height="6.40" fill="#000"/>
<rect x="616.90" y="282.90" width="5.52" height="14.10" fill="url(#p21)"/>
<path d="M617.55,297.00 V283.55 H621.77 V297.00" fill="none" stroke="#000" stroke-width="1.3"/>
<rect x="616.90" y="282.90" width="5.52" height="2.0" fill="#000"/>
<rect x="622.42" y="277.80" width="5.52" height="19.20" fill="url(#p22)"/>
<path d="M623.07,297.00 V278.45 H627.29 V297.00" fill="none" stroke="#000" stroke-width="1.3"/>
<rect x="622.42" y="277.80" width="5.52" height="2.0" fill="#000"/>
<rect x="621.38" y="276.30" width="7.60" height="1.5" fill="#000"/>
<rect x="621.38" y="277.80" width="7.60" height="1.5" fill="#000"/>
<rect x="624.58" y="276.30" width="1.2" height="3.00" fill="#000"/>
<rect x="627.94" y="271.30" width="5.52" height="25.70" fill="url(#p23)"/>
<path d="M628.59,297.00 V271.95 H632.81 V297.00" fill="none" stroke="#000" stroke-width="1.3"/>
<rect x="627.94" y="271.30" width="5.52" height="2.0" fill="#000"/>
<rect x="626.90" y="269.80" width="7.60" height="1.5" fill="#000"/>
<rect x="626.90" y="271.30" width="7.60" height="1.5" fill="#000"/>
<rect x="630.10" y="269.80" width="1.2" height="3.00" fill="#000"/>
<rect x="633.46" y="267.80" width="5.52" height="29.20" fill="#000"/>
<path d="M634.11,297.00 V268.45 H638.33 V297.00" fill="none" stroke="#000" stroke-width="1.3"/>
<rect x="633.46" y="267.80" width="5.52" height="2.0" fill="#000"/>
<rect x="632.42" y="266.30" width="7.60" height="1.5" fill="#000"/>
<rect x="632.42" y="267.80" width="7.60" height="1.5" fill="#000"/>
<rect x="635.62" y="266.30" width="1.2" height="3.00" fill="#000"/>
<rect x="638.98" y="252.10" width="5.52" height="44.90" fill="url(#p24)"/>
<path d="M639.63,297.00 V252.75 H643.85 V297.00" fill="none" stroke="#000" stroke-width="1.3"/>
<rect x="638.98" y="252.10" width="5.52" height="2.0" fill="#000"/>
<rect x="637.94" y="249.50" width="7.60" height="1.5" fill="#000"/>
<rect x="637.94" y="253.20" width="7.60" height="1.5" fill="#000"/>
<rect x="641.14" y="249.50" width="1.2" height="5.20" fill="#000"/>
<rect x="651.10" y="264.80" width="5.52" height="32.20" fill="url(#p25)"/>
<path d="M651.75,297.00 V265.45 H655.97 V297.00" fill="none" stroke="#000" stroke-width="1.3"/>
<rect x="651.10" y="264.80" width="5.52" height="2.0" fill="#000"/>
<rect x="656.62" y="254.80" width="5.52" height="42.20" fill="url(#p26)"/>
<path d="M657.27,297.00 V255.45 H661.49 V297.00" fill="none" stroke="#000" stroke-width="1.3"/>
<rect x="656.62" y="254.80" width="5.52" height="2.0" fill="#000"/>
<rect x="655.58" y="253.30" width="7.60" height="1.5" fill="#000"/>
<rect x="655.58" y="254.80" width="7.60" height="1.5" fill="#000"/>
<rect x="658.78" y="253.30" width="1.2" height="3.00" fill="#000"/>
<rect x="662.14" y="245.00" width="5.52" height="52.00" fill="url(#p27)"/>
<path d="M662.79,297.00 V245.65 H667.01 V297.00" fill="none" stroke="#000" stroke-width="1.3"/>
<rect x="662.14" y="245.00" width="5.52" height="2.0" fill="#000"/>
<rect x="661.10" y="243.50" width="7.60" height="1.5" fill="#000"/>
<rect x="661.10" y="245.00" width="7.60" height="1.5" fill="#000"/>
<rect x="664.30" y="243.50" width="1.2" height="3.00" fill="#000"/>
<rect x="667.66" y="234.90" width="5.52" height="62.10" fill="#000"/>
<path d="M668.31,297.00 V235.55 H672.53 V297.00" fill="none" stroke="#000" stroke-width="1.3"/>
<rect x="667.66" y="234.90" width="5.52" height="2.0" fill="#000"/>
<rect x="666.62" y="233.40" width="7.60" height="1.5" fill="#000"/>
<rect x="666.62" y="234.90" width="7.60" height="1.5" fill="#000"/>
<rect x="669.82" y="233.40" width="1.2" height="3.00" fill="#000"/>
<rect x="673.18" y="197.60" width="5.52" height="99.40" fill="url(#p28)"/>
<path d="M673.83,297.00 V198.25 H678.05 V297.00" fill="none" stroke="#000" stroke-width="1.3"/>
<rect x="673.18" y="197.60" width="5.52" height="2.0" fill="#000"/>
<rect x="672.14" y="195.10" width="7.60" height="1.5" fill="#000"/>
<rect x="672.14" y="198.60" width="7.60" height="1.5" fill="#000"/>
<rect x="675.34" y="195.10" width="1.2" height="5.00" fill="#000"/>
<rect x="685.60" y="227.10" width="5.52" height="69.90" fill="url(#p29)"/>
<path d="M686.25,297.00 V227.75 H690.47 V297.00" fill="none" stroke="#000" stroke-width="1.3"/>
<rect x="685.60" y="227.10" width="5.52" height="2.0" fill="#000"/>
<rect x="691.12" y="205.50" width="5.52" height="91.50" fill="url(#p30)"/>
<path d="M691.77,297.00 V206.15 H695.99 V297.00" fill="none" stroke="#000" stroke-width="1.3"/>
<rect x="691.12" y="205.50" width="5.52" height="2.0" fill="#000"/>
<rect x="690.08" y="203.30" width="7.60" height="1.5" fill="#000"/>
<rect x="690.08" y="206.20" width="7.60" height="1.5" fill="#000"/>
<rect x="693.28" y="203.30" width="1.2" height="4.40" fill="#000"/>
<rect x="696.64" y="193.00" width="5.52" height="104.00" fill="url(#p31)"/>
<path d="M697.29,297.00 V193.65 H701.51 V297.00" fill="none" stroke="#000" stroke-width="1.3"/>
<rect x="696.64" y="193.00" width="5.52" height="2.0" fill="#000"/>
<rect x="695.60" y="190.50" width="7.60" height="1.5" fill="#000"/>
<rect x="695.60" y="194.00" width="7.60" height="1.5" fill="#000"/>
<rect x="698.80" y="190.50" width="1.2" height="5.00" fill="#000"/>
<rect x="702.16" y="177.30" width="5.52" height="119.70" fill="#000"/>
<path d="M702.81,297.00 V177.95 H707.03 V297.00" fill="none" stroke="#000" stroke-width="1.3"/>
<rect x="702.16" y="177.30" width="5.52" height="2.0" fill="#000"/>
<rect x="701.12" y="172.50" width="7.60" height="1.5" fill="#000"/>
<rect x="701.12" y="180.60" width="7.60" height="1.5" fill="#000"/>
<rect x="704.32" y="172.50" width="1.2" height="9.60" fill="#000"/>
<rect x="707.68" y="37.30" width="5.52" height="259.70" fill="url(#p32)"/>
<path d="M708.33,297.00 V37.95 H712.55 V297.00" fill="none" stroke="#000" stroke-width="1.3"/>
<rect x="707.68" y="37.30" width="5.52" height="2.0" fill="#000"/>
<rect x="706.64" y="34.10" width="7.60" height="1.5" fill="#000"/>
<rect x="706.64" y="39.00" width="7.60" height="1.5" fill="#000"/>
<rect x="709.84" y="34.10" width="1.2" height="6.40" fill="#000"/>
<text x="489.30" y="37.70" font-family='"Liberation Sans", sans-serif' font-size="25" text-anchor="start" font-weight="bold" font-style="normal" fill="#000" >a</text>
<text transform="translate(409.30,157.60) rotate(-90)" x="0" y="0" font-family='"Liberation Serif", serif' font-size="17" text-anchor="middle" font-style="italic" font-weight="normal" textLength="134" lengthAdjust="spacingAndGlyphs">Penicillium italicum</text>
<text transform="translate(426.30,158.00) rotate(-90)" x="0" y="0" font-family='"Liberation Serif", serif' font-size="16" text-anchor="middle" font-style="normal" font-weight="normal" textLength="101" lengthAdjust="spacingAndGlyphs">Decay area (%)</text>
<line x1="78.5" y1="333.40" x2="78.5" y2="630.30" stroke="#8c8c8c" stroke-width="1"/>
<line x1="74.0" y1="630.50" x2="78.5" y2="630.50" stroke="#8c8c8c" stroke-width="1"/>
<text x="63.50" y="634.90" font-family='"Liberation Sans", sans-serif' font-size="15.5" text-anchor="end" font-weight="normal" font-style="normal" fill="#000" >0</text>
<line x1="74.0" y1="593.50" x2="78.5" y2="593.50" stroke="#8c8c8c" stroke-width="1"/>
<text x="63.50" y="597.79" font-family='"Liberation Sans", sans-serif' font-size="15.5" text-anchor="end" font-weight="normal" font-style="normal" fill="#000" >5</text>
<line x1="74.0" y1="556.50" x2="78.5" y2="556.50" stroke="#8c8c8c" stroke-width="1"/>
<text x="63.50" y="560.67" font-family='"Liberation Sans", sans-serif' font-size="15.5" text-anchor="end" font-weight="normal" font-style="normal" fill="#000" >10</text>
<line x1="74.0" y1="518.50" x2="78.5" y2="518.50" stroke="#8c8c8c" stroke-width="1"/>
<text x="63.50" y="523.56" font-family='"Liberation Sans", sans-serif' font-size="15.5" text-anchor="end" font-weight="normal" font-style="normal" fill="#000" >15</text>
<line x1="74.0" y1="481.50" x2="78.5" y2="481.50" stroke="#8c8c8c" stroke-width="1"/>
<text x="63.50" y="486.45" font-family='"Liberation Sans", sans-serif' font-size="15.5" text-anchor="end" font-weight="normal" font-style="normal" fill="#000" >20</text>
<line x1="74.0" y1="444.50" x2="78.5" y2="444.50" stroke="#8c8c8c" stroke-width="1"/>
<text x="63.50" y="449.34" font-family='"Liberation Sans", sans-serif' font-size="15.5" text-anchor="end" font-weight="normal" font-style="normal" fill="#000" >25</text>
<line x1="74.0" y1="407.50" x2="78.5" y2="407.50" stroke="#8c8c8c" stroke-width="1"/>
<text x="63.50" y="412.23" font-family='"Liberation Sans", sans-serif' font-size="15.5" text-anchor="end" font-weight="normal" font-style="normal" fill="#000" >30</text>
<line x1="74.0" y1="370.50" x2="78.5" y2="370.50" stroke="#8c8c8c" stroke-width="1"/>
<text x="63.50" y="375.11" font-family='"Liberation Sans", sans-serif' font-size="15.5" text-anchor="end" font-weight="normal" font-style="normal" fill="#000" >35</text>
<line x1="74.0" y1="333.50" x2="78.5" y2="333.50" stroke="#8c8c8c" stroke-width="1"/>
<text x="63.50" y="338.00" font-family='"Liberation Sans", sans-serif' font-size="15.5" text-anchor="end" font-weight="normal" font-style="normal" fill="#000" >40</text>
<rect x="244.90" y="599.20" width="6.52" height="31.10" fill="url(#p33)"/>
<path d="M245.50,630.30 V599.80 H250.82 V630.30" fill="none" stroke="#000" stroke-width="1.2"/>
<rect x="244.90" y="599.20" width="6.52" height="2.8" fill="#000"/>
<rect x="244.66" y="596.10" width="7.00" height="1.3" fill="#000"/>
<rect x="244.66" y="601.00" width="7.00" height="1.3" fill="#000"/>
<rect x="247.56" y="596.10" width="1.2" height="6.20" fill="#000"/>
<rect x="251.42" y="574.70" width="6.52" height="55.60" fill="url(#p34)"/>
<rect x="251.42" y="574.70" width="6.52" height="2.8" fill="#000"/>
<rect x="257.94" y="556.20" width="6.52" height="74.10" fill="url(#p35)"/>
<rect x="257.75" y="551.20" width="4.50" height="1.3" fill="#000"/>
<rect x="257.75" y="559.90" width="4.50" height="1.3" fill="#000"/>
<rect x="261.05" y="551.20" width="1.2" height="10.00" fill="#000"/>
<rect x="264.46" y="534.30" width="6.52" height="96.00" fill="#000"/>
<path d="M265.06,630.30 V534.90 H270.38 V630.30" fill="none" stroke="#000" stroke-width="1.2"/>
<rect x="264.46" y="534.30" width="6.52" height="2.8" fill="#000"/>
<rect x="265.52" y="530.90" width="1.3" height="1.3" fill="#000"/>
<rect x="268.52" y="530.90" width="1.3" height="1.3" fill="#000"/>
<rect x="270.98" y="488.60" width="6.52" height="141.70" fill="url(#p36)"/>
<path d="M271.58,630.30 V489.20 H276.90 V630.30" fill="none" stroke="#000" stroke-width="1.2"/>
<rect x="270.98" y="488.60" width="6.52" height="2.8" fill="#000"/>
<rect x="270.74" y="483.50" width="7.00" height="1.3" fill="#000"/>
<rect x="270.74" y="492.40" width="7.00" height="1.3" fill="#000"/>
<rect x="273.64" y="483.50" width="1.2" height="10.20" fill="#000"/>
<rect x="285.10" y="579.80" width="6.52" height="50.50" fill="url(#p37)"/>
<path d="M285.70,630.30 V580.40 H291.02 V630.30" fill="none" stroke="#000" stroke-width="1.2"/>
<rect x="285.10" y="579.80" width="6.52" height="2.8" fill="#000"/>
<rect x="291.62" y="561.40" width="6.52" height="68.90" fill="url(#p38)"/>
<rect x="291.62" y="561.40" width="6.52" height="2.8" fill="#000"/>
<rect x="298.14" y="534.40" width="6.52" height="95.90" fill="url(#p39)"/>
<rect x="297.95" y="528.80" width="4.50" height="1.3" fill="#000"/>
<rect x="297.95" y="538.70" width="4.50" height="1.3" fill="#000"/>
<rect x="301.25" y="528.80" width="1.2" height="11.20" fill="#000"/>
<rect x="304.66" y="510.40" width="6.52" height="119.90" fill="#000"/>
<path d="M305.26,630.30 V511.00 H310.58 V630.30" fill="none" stroke="#000" stroke-width="1.2"/>
<rect x="304.66" y="510.40" width="6.52" height="2.8" fill="#000"/>
<rect x="305.72" y="507.00" width="1.3" height="1.3" fill="#000"/>
<rect x="308.72" y="507.00" width="1.3" height="1.3" fill="#000"/>
<rect x="311.18" y="423.50" width="6.52" height="206.80" fill="url(#p40)"/>
<path d="M311.78,630.30 V424.10 H317.10 V630.30" fill="none" stroke="#000" stroke-width="1.2"/>
<rect x="311.18" y="423.50" width="6.52" height="2.8" fill="#000"/>
<rect x="310.94" y="421.00" width="7.00" height="1.3" fill="#000"/>
<rect x="310.94" y="424.70" width="7.00" height="1.3" fill="#000"/>
<rect x="313.84" y="421.00" width="1.2" height="5.00" fill="#000"/>
<rect x="325.30" y="550.40" width="6.52" height="79.90" fill="url(#p41)"/>
<path d="M325.90,630.30 V551.00 H331.22 V630.30" fill="none" stroke="#000" stroke-width="1.2"/>
<rect x="325.30" y="550.40" width="6.52" height="2.8" fill="#000"/>
<rect x="331.82" y="534.80" width="6.52" height="95.50" fill="url(#p42)"/>
<rect x="331.82" y="534.80" width="6.52" height="2.8" fill="#000"/>
<rect x="338.34" y="521.70" width="6.52" height="108.60" fill="url(#p43)"/>
<rect x="338.15" y="516.70" width="4.50" height="1.3" fill="#000"/>
<rect x="338.15" y="525.40" width="4.50" height="1.3" fill="#000"/>
<rect x="341.45" y="516.70" width="1.2" height="10.00" fill="#000"/>
<rect x="344.86" y="493.30" width="6.52" height="137.00" fill="#000"/>
<path d="M345.46,630.30 V493.90 H350.78 V630.30" fill="none" stroke="#000" stroke-width="1.2"/>
<rect x="344.86" y="493.30" width="6.52" height="2.8" fill="#000"/>
<rect x="345.92" y="489.90" width="1.3" height="1.3" fill="#000"/>
<rect x="348.92" y="489.90" width="1.3" height="1.3" fill="#000"/>
<rect x="351.38" y="365.50" width="6.52" height="264.80" fill="url(#p44)"/>
<path d="M351.98,630.30 V366.10 H357.30 V630.30" fill="none" stroke="#000" stroke-width="1.2"/>
<rect x="351.38" y="365.50" width="6.52" height="2.8" fill="#000"/>
<rect x="351.14" y="358.80" width="7.00" height="1.3" fill="#000"/>
<rect x="351.14" y="370.90" width="7.00" height="1.3" fill="#000"/>
<rect x="354.04" y="358.80" width="1.2" height="13.40" fill="#000"/>
<rect x="95.90" y="629.50" width="4.4" height="1.5" fill="#444"/>
<rect x="102.20" y="629.50" width="1.3" height="1.5" fill="#444"/>
<rect x="105.40" y="629.50" width="1.3" height="1.5" fill="#444"/>
<rect x="108.30" y="629.50" width="1.3" height="1.5" fill="#444"/>
<rect x="136.10" y="629.50" width="4.4" height="1.5" fill="#444"/>
<rect x="142.40" y="629.50" width="1.3" height="1.5" fill="#444"/>
<rect x="145.60" y="629.50" width="1.3" height="1.5" fill="#444"/>
<rect x="148.50" y="629.50" width="1.3" height="1.5" fill="#444"/>
<rect x="176.30" y="629.50" width="4.4" height="1.5" fill="#444"/>
<rect x="182.60" y="629.50" width="1.3" height="1.5" fill="#444"/>
<rect x="185.80" y="629.50" width="1.3" height="1.5" fill="#444"/>
<rect x="188.70" y="629.50" width="1.3" height="1.5" fill="#444"/>
<rect x="216.50" y="629.50" width="4.4" height="1.5" fill="#444"/>
<rect x="222.80" y="629.50" width="1.3" height="1.5" fill="#444"/>
<rect x="226.00" y="629.50" width="1.3" height="1.5" fill="#444"/>
<rect x="228.90" y="629.50" width="1.3" height="1.5" fill="#444"/>
<text x="90.50" y="352.30" font-family='"Liberation Sans", sans-serif' font-size="24.5" text-anchor="start" font-weight="bold" font-style="normal" fill="#000" >b</text>
<text transform="translate(11.80,481.30) rotate(-90)" x="0" y="0" font-family='"Liberation Sans", sans-serif' font-size="14" text-anchor="middle" font-style="italic" font-weight="normal" textLength="81" lengthAdjust="spacingAndGlyphs">P. digitatum</text>
<text transform="translate(31.20,481.30) rotate(-90)" x="0" y="0" font-family='"Liberation Sans", sans-serif' font-size="15" text-anchor="middle" font-style="normal" font-weight="normal" textLength="146.5" lengthAdjust="spacingAndGlyphs">Lesion diameter (mm)</text>
<line x1="476.5" y1="334.40" x2="476.5" y2="630.30" stroke="#8c8c8c" stroke-width="1"/>
<line x1="471.5" y1="630.50" x2="476.5" y2="630.50" stroke="#8c8c8c" stroke-width="1"/>
<text x="462.70" y="635.10" font-family='"Liberation Sans", sans-serif' font-size="14.5" text-anchor="end" font-weight="normal" font-style="normal" fill="#000" >0</text>
<line x1="471.5" y1="593.50" x2="476.5" y2="593.50" stroke="#8c8c8c" stroke-width="1"/>
<text x="462.70" y="598.11" font-family='"Liberation Sans", sans-serif' font-size="14.5" text-anchor="end" font-weight="normal" font-style="normal" fill="#000" >5</text>
<line x1="471.5" y1="556.50" x2="476.5" y2="556.50" stroke="#8c8c8c" stroke-width="1"/>
<text x="462.70" y="561.12" font-family='"Liberation Sans", sans-serif' font-size="14.5" text-anchor="end" font-weight="normal" font-style="normal" fill="#000" >10</text>
<line x1="471.5" y1="519.50" x2="476.5" y2="519.50" stroke="#8c8c8c" stroke-width="1"/>
<text x="462.70" y="524.14" font-family='"Liberation Sans", sans-serif' font-size="14.5" text-anchor="end" font-weight="normal" font-style="normal" fill="#000" >15</text>
<line x1="471.5" y1="482.50" x2="476.5" y2="482.50" stroke="#8c8c8c" stroke-width="1"/>
<text x="462.70" y="487.15" font-family='"Liberation Sans", sans-serif' font-size="14.5" text-anchor="end" font-weight="normal" font-style="normal" fill="#000" >20</text>
<line x1="471.5" y1="445.50" x2="476.5" y2="445.50" stroke="#8c8c8c" stroke-width="1"/>
<text x="462.70" y="450.16" font-family='"Liberation Sans", sans-serif' font-size="14.5" text-anchor="end" font-weight="normal" font-style="normal" fill="#000" >25</text>
<line x1="471.5" y1="408.50" x2="476.5" y2="408.50" stroke="#8c8c8c" stroke-width="1"/>
<text x="462.70" y="413.18" font-family='"Liberation Sans", sans-serif' font-size="14.5" text-anchor="end" font-weight="normal" font-style="normal" fill="#000" >30</text>
<line x1="471.5" y1="371.50" x2="476.5" y2="371.50" stroke="#8c8c8c" stroke-width="1"/>
<text x="462.70" y="376.19" font-family='"Liberation Sans", sans-serif' font-size="14.5" text-anchor="end" font-weight="normal" font-style="normal" fill="#000" >35</text>
<line x1="471.5" y1="334.50" x2="476.5" y2="334.50" stroke="#8c8c8c" stroke-width="1"/>
<text x="462.70" y="339.20" font-family='"Liberation Sans", sans-serif' font-size="14.5" text-anchor="end" font-weight="normal" font-style="normal" fill="#000" >40</text>
<rect x="637.80" y="599.20" width="6.16" height="31.10" fill="url(#p45)"/>
<path d="M638.40,630.30 V599.80 H643.36 V630.30" fill="none" stroke="#000" stroke-width="1.2"/>
<rect x="637.80" y="599.20" width="6.16" height="1.6" fill="#000"/>
<rect x="637.38" y="595.20" width="7.00" height="1.3" fill="#000"/>
<rect x="637.38" y="601.90" width="7.00" height="1.3" fill="#000"/>
<rect x="640.28" y="595.20" width="1.2" height="8.00" fill="#000"/>
<rect x="643.96" y="577.10" width="6.16" height="53.20" fill="url(#p46)"/>
<rect x="643.96" y="577.10" width="6.16" height="1.6" fill="#000"/>
<rect x="643.54" y="574.00" width="7.00" height="1.3" fill="#000"/>
<rect x="643.54" y="578.90" width="7.00" height="1.3" fill="#000"/>
<rect x="646.44" y="574.00" width="1.2" height="6.20" fill="#000"/>
<rect x="650.12" y="555.50" width="6.16" height="74.80" fill="url(#p47)"/>
<path d="M650.72,630.30 V556.10 H655.68 V630.30" fill="none" stroke="#000" stroke-width="1.2"/>
<rect x="650.12" y="555.50" width="6.16" height="1.6" fill="#000"/>
<rect x="649.70" y="550.30" width="7.00" height="1.3" fill="#000"/>
<rect x="649.70" y="559.40" width="7.00" height="1.3" fill="#000"/>
<rect x="652.60" y="550.30" width="1.2" height="10.40" fill="#000"/>
<rect x="656.28" y="534.30" width="6.16" height="96.00" fill="#000"/>
<path d="M656.88,630.30 V534.90 H661.84 V630.30" fill="none" stroke="#000" stroke-width="1.2"/>
<rect x="656.28" y="534.30" width="6.16" height="1.6" fill="#000"/>
<rect x="657.16" y="530.90" width="1.3" height="1.3" fill="#000"/>
<rect x="660.16" y="530.90" width="1.3" height="1.3" fill="#000"/>
<rect x="662.44" y="488.70" width="6.16" height="141.60" fill="url(#p48)"/>
<path d="M663.04,630.30 V489.30 H668.00 V630.30" fill="none" stroke="#000" stroke-width="1.2"/>
<rect x="662.44" y="488.70" width="6.16" height="1.6" fill="#000"/>
<rect x="662.02" y="482.40" width="7.00" height="1.3" fill="#000"/>
<rect x="662.02" y="493.70" width="7.00" height="1.3" fill="#000"/>
<rect x="664.92" y="482.40" width="1.2" height="12.60" fill="#000"/>
<rect x="677.40" y="583.10" width="6.16" height="47.20" fill="url(#p49)"/>
<path d="M678.00,630.30 V583.70 H682.96 V630.30" fill="none" stroke="#000" stroke-width="1.2"/>
<rect x="677.40" y="583.10" width="6.16" height="1.6" fill="#000"/>
<rect x="676.98" y="578.80" width="7.00" height="1.3" fill="#000"/>
<rect x="676.98" y="586.10" width="7.00" height="1.3" fill="#000"/>
<rect x="679.88" y="578.80" width="1.2" height="8.60" fill="#000"/>
<rect x="683.56" y="563.30" width="6.16" height="67.00" fill="url(#p50)"/>
<rect x="683.56" y="563.30" width="6.16" height="1.6" fill="#000"/>
<rect x="683.14" y="560.20" width="7.00" height="1.3" fill="#000"/>
<rect x="683.14" y="565.10" width="7.00" height="1.3" fill="#000"/>
<rect x="686.04" y="560.20" width="1.2" height="6.20" fill="#000"/>
<rect x="689.72" y="533.60" width="6.16" height="96.70" fill="url(#p51)"/>
<path d="M690.32,630.30 V534.20 H695.28 V630.30" fill="none" stroke="#000" stroke-width="1.2"/>
<rect x="689.72" y="533.60" width="6.16" height="1.6" fill="#000"/>
<rect x="689.30" y="528.70" width="7.00" height="1.3" fill="#000"/>
<rect x="689.30" y="537.20" width="7.00" height="1.3" fill="#000"/>
<rect x="692.20" y="528.70" width="1.2" height="9.80" fill="#000"/>
<rect x="695.88" y="510.10" width="6.16" height="120.20" fill="#000"/>
<path d="M696.48,630.30 V510.70 H701.44 V630.30" fill="none" stroke="#000" stroke-width="1.2"/>
<rect x="695.88" y="510.10" width="6.16" height="1.6" fill="#000"/>
<rect x="696.76" y="506.70" width="1.3" height="1.3" fill="#000"/>
<rect x="699.76" y="506.70" width="1.3" height="1.3" fill="#000"/>
<rect x="702.04" y="424.00" width="6.16" height="206.30" fill="url(#p52)"/>
<path d="M702.64,630.30 V424.60 H707.60 V630.30" fill="none" stroke="#000" stroke-width="1.2"/>
<rect x="702.04" y="424.00" width="6.16" height="1.6" fill="#000"/>
<rect x="701.62" y="420.20" width="7.00" height="1.3" fill="#000"/>
<rect x="701.62" y="426.50" width="7.00" height="1.3" fill="#000"/>
<rect x="704.52" y="420.20" width="1.2" height="7.60" fill="#000"/>
<rect x="716.90" y="552.30" width="6.16" height="78.00" fill="url(#p53)"/>
<path d="M717.50,630.30 V552.90 H722.46 V630.30" fill="none" stroke="#000" stroke-width="1.2"/>
<rect x="716.90" y="552.30" width="6.16" height="1.6" fill="#000"/>
<rect x="716.48" y="549.30" width="7.00" height="1.3" fill="#000"/>
<rect x="716.48" y="554.00" width="7.00" height="1.3" fill="#000"/>
<rect x="719.38" y="549.30" width="1.2" height="6.00" fill="#000"/>
<rect x="723.06" y="535.60" width="6.16" height="94.70" fill="url(#p54)"/>
<rect x="723.06" y="535.60" width="6.16" height="1.6" fill="#000"/>
<rect x="722.64" y="532.60" width="7.00" height="1.3" fill="#000"/>
<rect x="722.64" y="537.30" width="7.00" height="1.3" fill="#000"/>
<rect x="725.54" y="532.60" width="1.2" height="6.00" fill="#000"/>
<rect x="729.22" y="518.90" width="6.16" height="111.40" fill="url(#p55)"/>
<path d="M729.82,630.30 V519.50 H734.78 V630.30" fill="none" stroke="#000" stroke-width="1.2"/>
<rect x="729.22" y="518.90" width="6.16" height="1.6" fill="#000"/>
<rect x="728.80" y="515.80" width="7.00" height="1.3" fill="#000"/>
<rect x="728.80" y="520.70" width="7.00" height="1.3" fill="#000"/>
<rect x="731.70" y="515.80" width="1.2" height="6.20" fill="#000"/>
<rect x="735.38" y="492.80" width="6.16" height="137.50" fill="#000"/>
<path d="M735.98,630.30 V493.40 H740.94 V630.30" fill="none" stroke="#000" stroke-width="1.2"/>
<rect x="735.38" y="492.80" width="6.16" height="1.6" fill="#000"/>
<rect x="736.26" y="489.40" width="1.3" height="1.3" fill="#000"/>
<rect x="739.26" y="489.40" width="1.3" height="1.3" fill="#000"/>
<rect x="741.54" y="366.40" width="6.16" height="263.90" fill="url(#p56)"/>
<path d="M742.14,630.30 V367.00 H747.10 V630.30" fill="none" stroke="#000" stroke-width="1.2"/>
<rect x="741.54" y="366.40" width="6.16" height="1.6" fill="#000"/>
<rect x="741.12" y="357.40" width="7.00" height="1.3" fill="#000"/>
<rect x="741.12" y="374.10" width="7.00" height="1.3" fill="#000"/>
<rect x="744.02" y="357.40" width="1.2" height="18.00" fill="#000"/>
<rect x="499.00" y="629.50" width="1.4" height="1.5" fill="#444"/>
<rect x="502.10" y="629.50" width="1.4" height="1.5" fill="#444"/>
<rect x="505.10" y="629.50" width="1.2" height="1.5" fill="#444"/>
<rect x="538.40" y="629.50" width="1.4" height="1.5" fill="#444"/>
<rect x="541.50" y="629.50" width="1.4" height="1.5" fill="#444"/>
<rect x="544.50" y="629.50" width="1.2" height="1.5" fill="#444"/>
<rect x="577.80" y="629.50" width="1.4" height="1.5" fill="#444"/>
<rect x="580.90" y="629.50" width="1.4" height="1.5" fill="#444"/>
<rect x="583.90" y="629.50" width="1.2" height="1.5" fill="#444"/>
<rect x="617.20" y="629.50" width="1.4" height="1.5" fill="#444"/>
<rect x="620.30" y="629.50" width="1.4" height="1.5" fill="#444"/>
<rect x="623.30" y="629.50" width="1.2" height="1.5" fill="#444"/>
<text x="487.80" y="352.50" font-family='"Liberation Sans", sans-serif' font-size="24.5" text-anchor="start" font-weight="bold" font-style="normal" fill="#000" >b</text>
<text transform="translate(416.20,483.20) rotate(-90)" x="0" y="0" font-family='"Liberation Sans", sans-serif' font-size="14" text-anchor="middle" font-style="italic" font-weight="normal" textLength="68.5" lengthAdjust="spacingAndGlyphs">P. italicum</text>
<text transform="translate(436.80,481.30) rotate(-90)" x="0" y="0" font-family='"Liberation Sans", sans-serif' font-size="15" text-anchor="middle" font-style="normal" font-weight="normal" textLength="146.5" lengthAdjust="spacingAndGlyphs">Lesion diameter (mm)</text>
<line x1="78.5" y1="680.50" x2="78.5" y2="889.10" stroke="#8c8c8c" stroke-width="1"/>
<line x1="74.0" y1="889.50" x2="78.5" y2="889.50" stroke="#8c8c8c" stroke-width="1"/>
<text x="63.70" y="894.10" font-family='"Liberation Sans", sans-serif' font-size="15" text-anchor="end" font-weight="normal" font-style="normal" fill="#000" >0</text>
<line x1="74.0" y1="847.50" x2="78.5" y2="847.50" stroke="#8c8c8c" stroke-width="1"/>
<text x="63.70" y="852.38" font-family='"Liberation Sans", sans-serif' font-size="15" text-anchor="end" font-weight="normal" font-style="normal" fill="#000" >20</text>
<line x1="74.0" y1="805.50" x2="78.5" y2="805.50" stroke="#8c8c8c" stroke-width="1"/>
<text x="63.70" y="810.66" font-family='"Liberation Sans", sans-serif' font-size="15" text-anchor="end" font-weight="normal" font-style="normal" fill="#000" >40</text>
<line x1="74.0" y1="763.50" x2="78.5" y2="763.50" stroke="#8c8c8c" stroke-width="1"/>
<text x="63.70" y="768.94" font-family='"Liberation Sans", sans-serif' font-size="15" text-anchor="end" font-weight="normal" font-style="normal" fill="#000" >60</text>
<line x1="74.0" y1="722.50" x2="78.5" y2="722.50" stroke="#8c8c8c" stroke-width="1"/>
<text x="63.70" y="727.22" font-family='"Liberation Sans", sans-serif' font-size="15" text-anchor="end" font-weight="normal" font-style="normal" fill="#000" >80</text>
<line x1="74.0" y1="680.50" x2="78.5" y2="680.50" stroke="#8c8c8c" stroke-width="1"/>
<text x="63.70" y="685.50" font-family='"Liberation Sans", sans-serif' font-size="15" text-anchor="end" font-weight="normal" font-style="normal" fill="#000" >100</text>
<rect x="247.00" y="872.20" width="6.72" height="16.90" fill="url(#p57)"/>
<path d="M247.75,889.10 V872.95 H252.97 V889.10" fill="none" stroke="#000" stroke-width="1.5"/>
<rect x="247.00" y="872.20" width="6.72" height="2.5" fill="#000"/>
<rect x="253.72" y="867.70" width="6.72" height="21.40" fill="url(#p58)"/>
<rect x="253.72" y="867.70" width="6.72" height="2.5" fill="#000"/>
<rect x="260.44" y="864.10" width="6.72" height="25.00" fill="url(#p59)"/>
<path d="M261.19,889.10 V864.85 H266.41 V889.10" fill="none" stroke="#000" stroke-width="1.5"/>
<rect x="260.44" y="864.10" width="6.72" height="2.5" fill="#000"/>
<rect x="267.16" y="860.10" width="6.72" height="29.00" fill="#000"/>
<path d="M267.91,889.10 V860.85 H273.13 V889.10" fill="none" stroke="#000" stroke-width="1.5"/>
<rect x="267.16" y="860.10" width="6.72" height="2.5" fill="#000"/>
<rect x="273.88" y="840.20" width="6.72" height="48.90" fill="url(#p60)"/>
<path d="M274.63,889.10 V840.95 H279.85 V889.10" fill="none" stroke="#000" stroke-width="1.5"/>
<rect x="273.88" y="840.20" width="6.72" height="2.5" fill="#000"/>
<rect x="288.20" y="851.30" width="6.72" height="37.80" fill="url(#p61)"/>
<path d="M288.95,889.10 V852.05 H294.17 V889.10" fill="none" stroke="#000" stroke-width="1.5"/>
<rect x="288.20" y="851.30" width="6.72" height="2.5" fill="#000"/>
<rect x="294.92" y="839.30" width="6.72" height="49.80" fill="url(#p62)"/>
<rect x="294.92" y="839.30" width="6.72" height="2.5" fill="#000"/>
<rect x="301.64" y="830.00" width="6.72" height="59.10" fill="url(#p63)"/>
<path d="M302.39,889.10 V830.75 H307.61 V889.10" fill="none" stroke="#000" stroke-width="1.5"/>
<rect x="301.64" y="830.00" width="6.72" height="2.5" fill="#000"/>
<rect x="308.36" y="821.90" width="6.72" height="67.20" fill="#000"/>
<path d="M309.11,889.10 V822.65 H314.33 V889.10" fill="none" stroke="#000" stroke-width="1.5"/>
<rect x="308.36" y="821.90" width="6.72" height="2.5" fill="#000"/>
<rect x="315.08" y="789.40" width="6.72" height="99.70" fill="url(#p64)"/>
<path d="M315.83,889.10 V790.15 H321.05 V889.10" fill="none" stroke="#000" stroke-width="1.5"/>
<rect x="315.08" y="789.40" width="6.72" height="2.5" fill="#000"/>
<rect x="329.20" y="809.60" width="6.72" height="79.50" fill="url(#p65)"/>
<path d="M329.95,889.10 V810.35 H335.17 V889.10" fill="none" stroke="#000" stroke-width="1.5"/>
<rect x="329.20" y="809.60" width="6.72" height="2.5" fill="#000"/>
<rect x="335.92" y="795.00" width="6.72" height="94.10" fill="url(#p66)"/>
<rect x="335.92" y="795.00" width="6.72" height="2.5" fill="#000"/>
<rect x="342.64" y="768.60" width="6.72" height="120.50" fill="url(#p67)"/>
<path d="M343.39,889.10 V769.35 H348.61 V889.10" fill="none" stroke="#000" stroke-width="1.5"/>
<rect x="342.64" y="768.60" width="6.72" height="2.5" fill="#000"/>
<rect x="349.36" y="753.30" width="6.72" height="135.80" fill="#000"/>
<path d="M350.11,889.10 V754.05 H355.33 V889.10" fill="none" stroke="#000" stroke-width="1.5"/>
<rect x="349.36" y="753.30" width="6.72" height="2.5" fill="#000"/>
<rect x="356.08" y="688.60" width="6.72" height="200.50" fill="url(#p68)"/>
<path d="M356.83,889.10 V689.35 H362.05 V889.10" fill="none" stroke="#000" stroke-width="1.5"/>
<rect x="356.08" y="688.60" width="6.72" height="2.5" fill="#000"/>
<line x1="74.0" y1="889.50" x2="366.0" y2="889.50" stroke="#8c8c8c" stroke-width="1"/>
<line x1="79.50" y1="889.50" x2="79.50" y2="895.00" stroke="#8c8c8c" stroke-width="1"/>
<line x1="120.50" y1="889.50" x2="120.50" y2="895.00" stroke="#8c8c8c" stroke-width="1"/>
<line x1="161.50" y1="889.50" x2="161.50" y2="895.00" stroke="#8c8c8c" stroke-width="1"/>
<line x1="202.50" y1="889.50" x2="202.50" y2="895.00" stroke="#8c8c8c" stroke-width="1"/>
<line x1="243.50" y1="889.50" x2="243.50" y2="895.00" stroke="#8c8c8c" stroke-width="1"/>
<line x1="284.50" y1="889.50" x2="284.50" y2="895.00" stroke="#8c8c8c" stroke-width="1"/>
<line x1="325.50" y1="889.50" x2="325.50" y2="895.00" stroke="#8c8c8c" stroke-width="1"/>
<text x="99.55" y="920.30" font-family='"Liberation Sans", sans-serif' font-size="15" text-anchor="middle" font-weight="normal" font-style="normal" fill="#000" >0</text>
<text x="140.65" y="920.30" font-family='"Liberation Sans", sans-serif' font-size="15" text-anchor="middle" font-weight="normal" font-style="normal" fill="#000" >10</text>
<text x="181.75" y="920.30" font-family='"Liberation Sans", sans-serif' font-size="15" text-anchor="middle" font-weight="normal" font-style="normal" fill="#000" >20</text>
<text x="222.85" y="920.30" font-family='"Liberation Sans", sans-serif' font-size="15" text-anchor="middle" font-weight="normal" font-style="normal" fill="#000" >30</text>
<text x="263.95" y="920.30" font-family='"Liberation Sans", sans-serif' font-size="15" text-anchor="middle" font-weight="normal" font-style="normal" fill="#000" >40</text>
<text x="305.05" y="920.30" font-family='"Liberation Sans", sans-serif' font-size="15" text-anchor="middle" font-weight="normal" font-style="normal" fill="#000" >50</text>
<text x="346.15" y="920.30" font-family='"Liberation Sans", sans-serif' font-size="15" text-anchor="middle" font-weight="normal" font-style="normal" fill="#000" >60</text>
<text x="222.60" y="952.30" font-family='"Liberation Sans", sans-serif' font-size="14.7" text-anchor="middle" font-weight="normal" font-style="normal" fill="#000" textLength="142.5" lengthAdjust="spacingAndGlyphs">Storage period (days)</text>
<text x="90.30" y="687.30" font-family='"Liberation Sans", sans-serif' font-size="24" text-anchor="start" font-weight="bold" font-style="normal" fill="#000" >c</text>
<text transform="translate(11.30,784.80) rotate(-90)" x="0" y="0" font-family='"Liberation Sans", sans-serif' font-size="14" text-anchor="middle" font-style="italic" font-weight="normal" textLength="81.5" lengthAdjust="spacingAndGlyphs">P. digitatum</text>
<text transform="translate(31.00,784.80) rotate(-90)" x="0" y="0" font-family='"Liberation Sans", sans-serif' font-size="15" text-anchor="middle" font-style="normal" font-weight="normal" textLength="133.5" lengthAdjust="spacingAndGlyphs">Decay incidence (%)</text>
<line x1="476.8" y1="665.50" x2="476.8" y2="888.80" stroke="#8c8c8c" stroke-width="1"/>
<line x1="471.0" y1="888.50" x2="476.8" y2="888.50" stroke="#8c8c8c" stroke-width="1"/>
<text x="461.00" y="893.80" font-family='"Liberation Sans", sans-serif' font-size="15" text-anchor="end" font-weight="normal" font-style="normal" fill="#000" >0</text>
<line x1="471.0" y1="844.50" x2="476.8" y2="844.50" stroke="#8c8c8c" stroke-width="1"/>
<text x="461.00" y="849.14" font-family='"Liberation Sans", sans-serif' font-size="15" text-anchor="end" font-weight="normal" font-style="normal" fill="#000" >20</text>
<line x1="471.0" y1="799.50" x2="476.8" y2="799.50" stroke="#8c8c8c" stroke-width="1"/>
<text x="461.00" y="804.48" font-family='"Liberation Sans", sans-serif' font-size="15" text-anchor="end" font-weight="normal" font-style="normal" fill="#000" >40</text>
<line x1="471.0" y1="754.50" x2="476.8" y2="754.50" stroke="#8c8c8c" stroke-width="1"/>
<text x="461.00" y="759.82" font-family='"Liberation Sans", sans-serif' font-size="15" text-anchor="end" font-weight="normal" font-style="normal" fill="#000" >60</text>
<line x1="471.0" y1="710.50" x2="476.8" y2="710.50" stroke="#8c8c8c" stroke-width="1"/>
<text x="461.00" y="715.16" font-family='"Liberation Sans", sans-serif' font-size="15" text-anchor="end" font-weight="normal" font-style="normal" fill="#000" >80</text>
<line x1="471.0" y1="665.50" x2="476.8" y2="665.50" stroke="#8c8c8c" stroke-width="1"/>
<text x="461.00" y="670.50" font-family='"Liberation Sans", sans-serif' font-size="15" text-anchor="end" font-weight="normal" font-style="normal" fill="#000" >100</text>
<rect x="642.80" y="863.60" width="6.64" height="25.20" fill="url(#p69)"/>
<path d="M643.55,888.80 V864.35 H648.69 V888.80" fill="none" stroke="#000" stroke-width="1.5"/>
<rect x="642.80" y="863.60" width="6.64" height="2.5" fill="#000"/>
<rect x="649.44" y="859.00" width="6.64" height="29.80" fill="url(#p70)"/>
<rect x="649.44" y="859.00" width="6.64" height="2.5" fill="#000"/>
<rect x="656.08" y="854.00" width="6.64" height="34.80" fill="url(#p71)"/>
<path d="M656.83,888.80 V854.75 H661.97 V888.80" fill="none" stroke="#000" stroke-width="1.5"/>
<rect x="656.08" y="854.00" width="6.64" height="2.5" fill="#000"/>
<rect x="662.72" y="849.20" width="6.64" height="39.60" fill="#000"/>
<path d="M663.47,888.80 V849.95 H668.61 V888.80" fill="none" stroke="#000" stroke-width="1.5"/>
<rect x="662.72" y="849.20" width="6.64" height="2.5" fill="#000"/>
<rect x="669.36" y="832.20" width="6.64" height="56.60" fill="url(#p72)"/>
<path d="M670.11,888.80 V832.95 H675.25 V888.80" fill="none" stroke="#000" stroke-width="1.5"/>
<rect x="669.36" y="832.20" width="6.64" height="2.5" fill="#000"/>
<rect x="683.80" y="840.70" width="6.64" height="48.10" fill="url(#p73)"/>
<path d="M684.55,888.80 V841.45 H689.69 V888.80" fill="none" stroke="#000" stroke-width="1.5"/>
<rect x="683.80" y="840.70" width="6.64" height="2.5" fill="#000"/>
<rect x="690.44" y="830.20" width="6.64" height="58.60" fill="url(#p74)"/>
<rect x="690.44" y="830.20" width="6.64" height="2.5" fill="#000"/>
<rect x="697.08" y="818.70" width="6.64" height="70.10" fill="url(#p75)"/>
<path d="M697.83,888.80 V819.45 H702.97 V888.80" fill="none" stroke="#000" stroke-width="1.5"/>
<rect x="697.08" y="818.70" width="6.64" height="2.5" fill="#000"/>
<rect x="703.72" y="809.90" width="6.64" height="78.90" fill="#000"/>
<path d="M704.47,888.80 V810.65 H709.61 V888.80" fill="none" stroke="#000" stroke-width="1.5"/>
<rect x="703.72" y="809.90" width="6.64" height="2.5" fill="#000"/>
<rect x="710.36" y="777.60" width="6.64" height="111.20" fill="url(#p76)"/>
<path d="M711.11,888.80 V778.35 H716.25 V888.80" fill="none" stroke="#000" stroke-width="1.5"/>
<rect x="710.36" y="777.60" width="6.64" height="2.5" fill="#000"/>
<rect x="724.80" y="796.50" width="6.64" height="92.30" fill="url(#p77)"/>
<path d="M725.55,888.80 V797.25 H730.69 V888.80" fill="none" stroke="#000" stroke-width="1.5"/>
<rect x="724.80" y="796.50" width="6.64" height="2.5" fill="#000"/>
<rect x="731.44" y="780.50" width="6.64" height="108.30" fill="url(#p78)"/>
<rect x="731.44" y="780.50" width="6.64" height="2.5" fill="#000"/>
<rect x="738.08" y="752.30" width="6.64" height="136.50" fill="url(#p79)"/>
<path d="M738.83,888.80 V753.05 H743.97 V888.80" fill="none" stroke="#000" stroke-width="1.5"/>
<rect x="738.08" y="752.30" width="6.64" height="2.5" fill="#000"/>
<rect x="744.72" y="736.80" width="6.64" height="152.00" fill="#000"/>
<path d="M745.47,888.80 V737.55 H750.61 V888.80" fill="none" stroke="#000" stroke-width="1.5"/>
<rect x="744.72" y="736.80" width="6.64" height="2.5" fill="#000"/>
<rect x="751.36" y="670.30" width="6.64" height="218.50" fill="url(#p80)"/>
<path d="M752.11,888.80 V671.05 H757.25 V888.80" fill="none" stroke="#000" stroke-width="1.5"/>
<rect x="751.36" y="670.30" width="6.64" height="2.5" fill="#000"/>
<line x1="471.0" y1="888.50" x2="761.0" y2="888.50" stroke="#8c8c8c" stroke-width="1"/>
<line x1="476.50" y1="888.50" x2="476.50" y2="894.00" stroke="#8c8c8c" stroke-width="1"/>
<line x1="517.50" y1="888.50" x2="517.50" y2="894.00" stroke="#8c8c8c" stroke-width="1"/>
<line x1="558.50" y1="888.50" x2="558.50" y2="894.00" stroke="#8c8c8c" stroke-width="1"/>
<line x1="598.50" y1="888.50" x2="598.50" y2="894.00" stroke="#8c8c8c" stroke-width="1"/>
<line x1="639.50" y1="888.50" x2="639.50" y2="894.00" stroke="#8c8c8c" stroke-width="1"/>
<line x1="680.50" y1="888.50" x2="680.50" y2="894.00" stroke="#8c8c8c" stroke-width="1"/>
<line x1="721.50" y1="888.50" x2="721.50" y2="894.00" stroke="#8c8c8c" stroke-width="1"/>
<text x="497.16" y="920.50" font-family='"Liberation Sans", sans-serif' font-size="15" text-anchor="middle" font-weight="normal" font-style="normal" fill="#000" >0</text>
<text x="537.88" y="920.50" font-family='"Liberation Sans", sans-serif' font-size="15" text-anchor="middle" font-weight="normal" font-style="normal" fill="#000" >10</text>
<text x="578.60" y="920.50" font-family='"Liberation Sans", sans-serif' font-size="15" text-anchor="middle" font-weight="normal" font-style="normal" fill="#000" >20</text>
<text x="619.32" y="920.50" font-family='"Liberation Sans", sans-serif' font-size="15" text-anchor="middle" font-weight="normal" font-style="normal" fill="#000" >30</text>
<text x="660.04" y="920.50" font-family='"Liberation Sans", sans-serif' font-size="15" text-anchor="middle" font-weight="normal" font-style="normal" fill="#000" >40</text>
<text x="700.76" y="920.50" font-family='"Liberation Sans", sans-serif' font-size="15" text-anchor="middle" font-weight="normal" font-style="normal" fill="#000" >50</text>
<text x="741.48" y="920.50" font-family='"Liberation Sans", sans-serif' font-size="15" text-anchor="middle" font-weight="normal" font-style="normal" fill="#000" >60</text>
<text x="619.20" y="945.00" font-family='"Liberation Sans", sans-serif' font-size="14.7" text-anchor="middle" font-weight="normal" font-style="normal" fill="#000" textLength="142.5" lengthAdjust="spacingAndGlyphs">Storage period (days)</text>
<text x="487.70" y="687.50" font-family='"Liberation Sans", sans-serif' font-size="24" text-anchor="start" font-weight="bold" font-style="normal" fill="#000" >c</text>
<text transform="translate(416.20,776.80) rotate(-90)" x="0" y="0" font-family='"Liberation Sans", sans-serif' font-size="14" text-anchor="middle" font-style="italic" font-weight="normal" textLength="75.5" lengthAdjust="spacingAndGlyphs">P.  italicum</text>
<text transform="translate(434.20,776.80) rotate(-90)" x="0" y="0" font-family='"Liberation Sans", sans-serif' font-size="15" text-anchor="middle" font-style="normal" font-weight="normal" textLength="133" lengthAdjust="spacingAndGlyphs">Decay incidence (%)</text>
</svg>
</body></html>
